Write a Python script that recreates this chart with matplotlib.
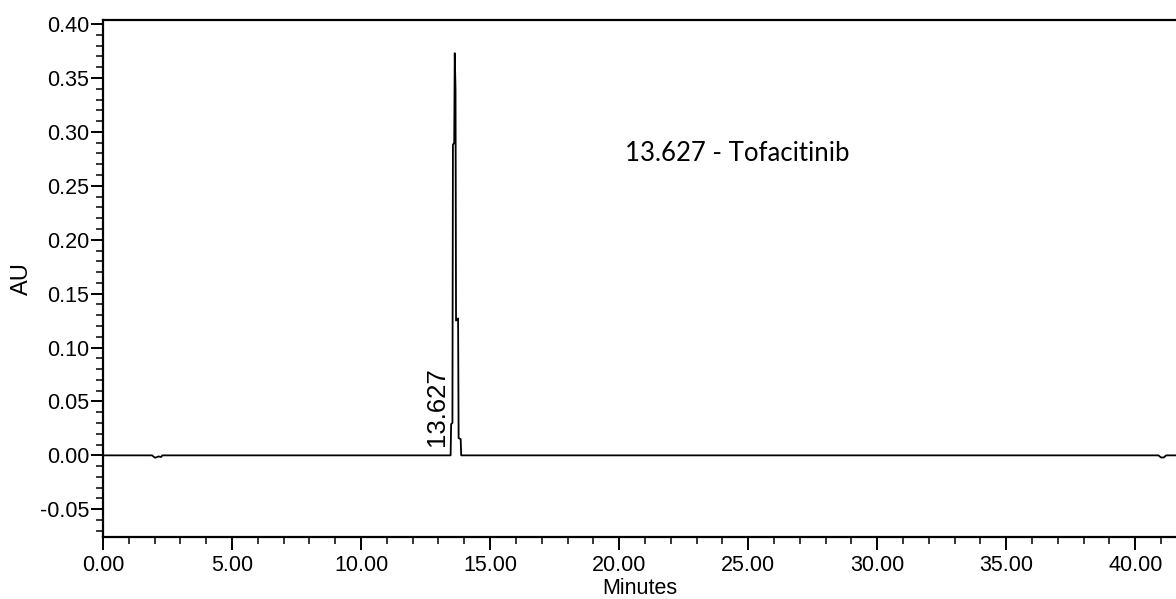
import matplotlib.pyplot as plt
from matplotlib.ticker import MultipleLocator, FormatStrFormatter

# ── Data ────────────────────────────────────────────────────────────────────
TIME = [0.00, 1.90, 1.95, 2.00, 2.05, 2.15, 2.25, 2.30,
        13.40, 13.47, 13.49, 13.54, 13.56, 13.61, 13.63, 13.66, 13.68,
        13.76, 13.78, 13.86, 13.88, 14.00,
        40.90, 41.00, 41.10, 41.20, 41.60]
AU   = [0.000, 0.000, -0.001, -0.002, -0.002, -0.001, -0.0015, 0.000,
        0.000, 0.000, 0.029, 0.030, 0.288, 0.290, 0.373, 0.339, 0.125,
        0.127, 0.016, 0.015, 0.000, 0.000,
        0.000, -0.002, -0.002, 0.000, 0.000]

PEAK_RT    = 13.627
PEAK_NAME  = "Tofacitinib"

X_MAJOR = 5
Y_MAJOR = 0.05

plt.rcParams["font.family"] = ["Liberation Sans", "DejaVu Sans"]

fig = plt.figure(figsize=(11.76, 5.99), dpi=100)
ax = fig.add_axes([0.0876, 0.103, 0.9124, 0.864])

ax.plot(TIME, AU, color="black", lw=1.3)

ax.set_xlim(0, 41.58)
ax.set_ylim(-0.076, 0.404)

ax.xaxis.set_major_locator(MultipleLocator(X_MAJOR))
ax.xaxis.set_minor_locator(MultipleLocator(1))
ax.yaxis.set_major_locator(MultipleLocator(Y_MAJOR))
ax.yaxis.set_minor_locator(MultipleLocator(0.01))
ax.xaxis.set_major_formatter(FormatStrFormatter("%.2f"))
ax.yaxis.set_major_formatter(FormatStrFormatter("%.2f"))

ax.tick_params(which="major", length=9, width=1.4, labelsize=15.5, pad=1)
ax.tick_params(axis="x", which="major", pad=4)
ax.tick_params(which="minor", length=5, width=1.1)
ax.spines["right"].set_visible(False)
for s in ("left", "bottom", "top"):
    ax.spines[s].set_linewidth(1.6)

ax.set_xlabel("Minutes", fontsize=15.5, va="top")
ax.xaxis.set_label_coords(0.5, -0.078)
ax.set_ylabel("AU", fontsize=17, va="center")
ax.yaxis.set_label_coords(-0.076, 0.5)

# retention-time label on the peak
ax.text(12.96, 0.009, f"{PEAK_RT:.3f}", rotation=90, ha="center", va="bottom",
        fontsize=18.5)

ax.text(0.4865, 0.742, f"{PEAK_RT:.3f} - {PEAK_NAME}", transform=ax.transAxes,
        fontsize=18.5, family=["Lato", "DejaVu Sans"], va="center", ha="left")

fig.savefig("out.png", dpi=100)
